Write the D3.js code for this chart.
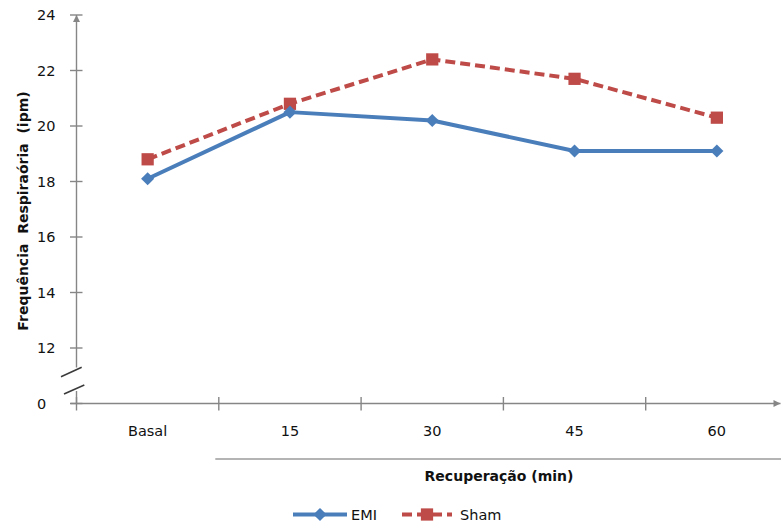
<!DOCTYPE html>
<html>
<head>
<meta charset="utf-8">
<script src="https://cdn.jsdelivr.net/npm/d3@7"></script>
<style>
  html, body { margin: 0; padding: 0; background: #fff; }
  svg { display: block; }
  text { font-family: "DejaVu Sans", sans-serif; fill: #111; }
</style>
</head>
<body>
<svg id="chart" width="781" height="524"></svg>
<script>
// Respiratory frequency (ipm) at baseline and during recovery
const categories = ["Basal", "15", "30", "45", "60"];
const emiValues  = [18.1, 20.5, 20.2, 19.1, 19.1];
const shamValues = [18.8, 20.8, 22.4, 21.7, 20.3];
const seriesNames = ["EMI", "Sham"];
// y axis is broken: the bottom tick (10) is labelled "0"
const yTickValues = [10, 12, 14, 16, 18, 20, 22, 24];
const yTickLabels = ["0", "12", "14", "16", "18", "20", "22", "24"];

const W = 781, H = 524;
const axisX = 76.5;
const svg = d3.select("#chart");

const x = d3.scaleBand().domain(categories).range([axisX, axisX + 5 * 142.3]).padding(0);
const y = d3.scaleLinear().domain([10, 24]).range([403.5, 15]);

const axisColor = "#868686";
const blue = "#4a7ebb", red = "#be4b48";

// arrowheads
const defs = svg.append("defs");
defs.append("marker").attr("id", "arrow")
  .attr("viewBox", "0 0 10 10").attr("refX", 10).attr("refY", 5)
  .attr("markerWidth", 10).attr("markerHeight", 7).attr("markerUnits", "userSpaceOnUse")
  .attr("orient", "auto")
  .append("path").attr("d", "M0,0 L10,5 L0,10 Z").attr("fill", axisColor);

const g = svg.append("g");

// y axis: upper segment with arrow, gap for the break, short lower segment
const yBreakTop = 367.5, yBreakBottom = 391;
g.append("line")
  .attr("x1", axisX).attr("x2", axisX)
  .attr("y1", yBreakTop).attr("y2", y(24))
  .attr("stroke", axisColor).attr("stroke-width", 1.4)
  .attr("marker-end", "url(#arrow)");
g.append("line")
  .attr("x1", axisX).attr("x2", axisX)
  .attr("y1", yBreakBottom).attr("y2", y(10))
  .attr("stroke", axisColor).attr("stroke-width", 1.4);

// y ticks crossing the axis
g.selectAll(".ytick").data(yTickValues).join("line")
  .attr("class", "ytick")
  .attr("x1", axisX - 6.5).attr("x2", axisX + 6)
  .attr("y1", d => y(d)).attr("y2", d => y(d))
  .attr("stroke", axisColor).attr("stroke-width", 1.4);

g.selectAll(".ylabel").data(yTickValues).join("text")
  .attr("class", "ylabel")
  .attr("x", 37).attr("y", d => y(d))
  .attr("dy", "0.36em")
  .attr("font-size", 14.5)
  .text((d, i) => yTickLabels[i]);

// break marks
const breaks = [[61, 376.7, 81.7, 367.3], [64, 394, 84.3, 385]];
g.selectAll(".brk").data(breaks).join("line")
  .attr("class", "brk")
  .attr("x1", d => d[0]).attr("y1", d => d[1])
  .attr("x2", d => d[2]).attr("y2", d => d[3])
  .attr("stroke", "#3a3a3a").attr("stroke-width", 1.5);

// x axis with arrow
g.append("line")
  .attr("x1", axisX - 6).attr("x2", W - 0.5)
  .attr("y1", y(10)).attr("y2", y(10))
  .attr("stroke", axisColor).attr("stroke-width", 1.4)
  .attr("marker-end", "url(#arrow)");

// x ticks at category boundaries
g.selectAll(".xtick").data(categories).join("line")
  .attr("class", "xtick")
  .attr("x1", d => x(d)).attr("x2", d => x(d))
  .attr("y1", y(10) - 6.5).attr("y2", y(10) + 7)
  .attr("stroke", axisColor).attr("stroke-width", 1.4);

g.selectAll(".xlabel").data(categories).join("text")
  .attr("class", "xlabel")
  .attr("x", d => x(d) + x.bandwidth() / 2).attr("y", 435.5)
  .attr("text-anchor", "middle")
  .attr("font-size", 14.5)
  .text(d => d);

// bracket line under the recovery categories
g.append("line")
  .attr("x1", x("15") - 3.5).attr("x2", W)
  .attr("y1", 459).attr("y2", 459)
  .attr("stroke", "#b4b4b4").attr("stroke-width", 2);

g.append("text")
  .attr("x", 499).attr("y", 481)
  .attr("text-anchor", "middle")
  .attr("font-size", 14).attr("font-weight", "bold")
  .text("Recuperação (min)");

// y axis title
g.append("text")
  .attr("transform", "translate(28,211) rotate(-90)")
  .attr("text-anchor", "middle")
  .attr("font-size", 14).attr("font-weight", "bold")
  .style("white-space", "pre")
  .text("Frequência  Respiraória  (ipm)");

// series
const cx = d => x(d) + x.bandwidth() / 2;
const line = d3.line().x(d => cx(d.c)).y(d => y(d.v));
const emi = categories.map((c, i) => ({ c, v: emiValues[i] }));
const sham = categories.map((c, i) => ({ c, v: shamValues[i] }));

const diamond = d3.symbol().type(d3.symbolDiamond2).size(110);
const square = d3.symbol().type(d3.symbolSquare).size(150);

g.append("path").datum(sham)
  .attr("d", line).attr("fill", "none")
  .attr("stroke", red).attr("stroke-width", 4)
  .attr("stroke-dasharray", "10,5");
g.selectAll(".sq").data(sham).join("path")
  .attr("class", "sq")
  .attr("transform", d => `translate(${cx(d.c)},${y(d.v)})`)
  .attr("d", square).attr("fill", red);

g.append("path").datum(emi)
  .attr("d", line).attr("fill", "none")
  .attr("stroke", blue).attr("stroke-width", 4)
  .attr("stroke-linejoin", "round");
g.selectAll(".dm").data(emi).join("path")
  .attr("class", "dm")
  .attr("transform", d => `translate(${cx(d.c)},${y(d.v)})`)
  .attr("d", diamond).attr("fill", blue);

// legend
const leg = g.append("g");
const legY = 514.5;
leg.append("line").attr("x1", 293).attr("x2", 347).attr("y1", legY).attr("y2", legY)
  .attr("stroke", blue).attr("stroke-width", 4);
leg.append("path").attr("transform", `translate(320,${legY})`).attr("d", diamond).attr("fill", blue);
leg.append("text").attr("x", 351).attr("y", legY + 5.5).attr("font-size", 14.5).text(seriesNames[0]);

leg.append("line").attr("x1", 402).attr("x2", 452).attr("y1", legY).attr("y2", legY)
  .attr("stroke", red).attr("stroke-width", 4).attr("stroke-dasharray", "10,5");
leg.append("path").attr("transform", `translate(427,${legY})`).attr("d", square).attr("fill", red);
leg.append("text").attr("x", 460).attr("y", legY + 5.5).attr("font-size", 14.5).text(seriesNames[1]);
</script>
</body>
</html>
